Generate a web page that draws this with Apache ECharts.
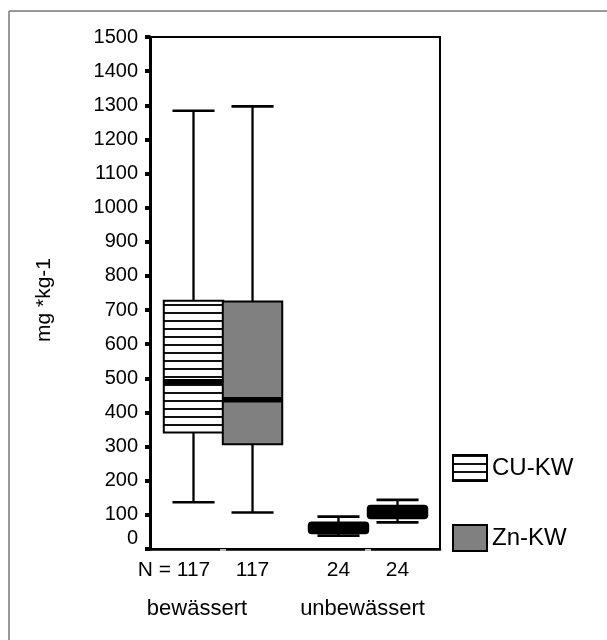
<!DOCTYPE html>
<html><head><meta charset="utf-8">
<script src="https://cdn.jsdelivr.net/npm/echarts@6/dist/echarts.min.js"></script>
<style>html,body{margin:0;padding:0;background:#fff}#c{width:607px;height:640px}</style>
</head><body><div id="c"></div>
<script>
// ---- data ----
const groups = ['bewässert', 'unbewässert'];
const seriesNames = ['CU-KW', 'Zn-KW'];
const nPrefix = 'N = ';
const cuN = [117, 24];
const znN = [117, 24];
const cuLow = [137, 39];
const cuQ1 = [341, 46];
const cuMedian = [490, 60];
const cuQ3 = [727, 78];
const cuHigh = [1284, 95];
const znLow = [107, 78];
const znQ1 = [307, 90];
const znMedian = [437, 108];
const znQ3 = [725, 127];
const znHigh = [1297, 144];
const yMin = 0, yMax = 1500, yStep = 100;
const yTitle = 'mg *kg-1';

// ---- style ----
const FONT = '"Liberation Sans", Arial, Helvetica, sans-serif';
const NFS = 21;
const pc = document.createElement('canvas');
pc.width = 8; pc.height = 8;
const pctx = pc.getContext('2d');
pctx.fillStyle = '#fff'; pctx.fillRect(0, 0, 8, 8);
pctx.fillStyle = '#111'; pctx.fillRect(0, 0, 8, 2);
const hatch = { image: pc, repeat: 'repeat' };
const GRAY = '#808080';

const mctx = document.createElement('canvas').getContext('2d');
mctx.font = NFS + 'px ' + FONT;

function rows(low, q1, med, q3, high, n) {
  return groups.map((g, i) => [i, low[i], q1[i], med[i], q3[i], high[i], n[i]]);
}

function makeRender(offsetFrac, fill, withPrefix) {
  return function (params, api) {
    const cat = api.value(0);
    const band = api.size([1, 0])[0];
    const base = api.coord([cat, 0]);
    const cx = base[0] + offsetFrac * band;
    const bw = 0.41 * band, cw = 0.29 * band;
    const yLow = api.coord([cat, api.value(1)])[1];
    const yQ1 = api.coord([cat, api.value(2)])[1];
    const yMed = api.coord([cat, api.value(3)])[1];
    const yQ3 = api.coord([cat, api.value(4)])[1];
    const yHigh = api.coord([cat, api.value(5)])[1];
    const small = (yQ1 - yQ3) < 16;
    const nTxt = String(api.value(6));
    const children = [
      { type: 'line', shape: { x1: cx, y1: yHigh, x2: cx, y2: yQ3 }, style: { stroke: '#000', lineWidth: 2.3 } },
      { type: 'line', shape: { x1: cx, y1: yQ1, x2: cx, y2: yLow }, style: { stroke: '#000', lineWidth: 2.3 } },
      { type: 'line', shape: { x1: cx - cw / 2, y1: yHigh, x2: cx + cw / 2, y2: yHigh }, style: { stroke: '#000', lineWidth: 2.7 } },
      { type: 'line', shape: { x1: cx - cw / 2, y1: yLow, x2: cx + cw / 2, y2: yLow }, style: { stroke: '#000', lineWidth: 2.7 } },
      { type: 'rect', shape: { x: cx - bw / 2, y: yQ3, width: bw, height: yQ1 - yQ3, r: small ? 3 : 0 },
        style: { fill: small ? '#000' : fill, stroke: '#000', lineWidth: 2 } },
      { type: 'line', shape: { x1: cx - bw / 2, y1: yMed, x2: cx + bw / 2, y2: yMed }, style: { stroke: '#000', lineWidth: 5.5 } }
    ];
    const ty = base[1] + 21;
    if (withPrefix && params.dataIndex === 0) {
      const hw = mctx.measureText(nTxt).width / 2;
      children.push({ type: 'text', x: cx + hw, y: ty,
        style: { text: nPrefix + nTxt, textAlign: 'right', textVerticalAlign: 'middle', fontSize: NFS, fontFamily: FONT, fill: '#000' } });
    } else {
      children.push({ type: 'text', x: cx, y: ty,
        style: { text: nTxt, textAlign: 'center', textVerticalAlign: 'middle', fontSize: NFS, fontFamily: FONT, fill: '#000' } });
    }
    return { type: 'group', children };
  };
}

const chart = echarts.init(document.getElementById('c'), null, { renderer: 'canvas' });
chart.setOption({
  backgroundColor: '#fff',
  animation: false,
  grid: { left: 150, right: 167, top: 37, bottom: 91, show: true, borderColor: '#000', borderWidth: 2, backgroundColor: 'transparent' },
  xAxis: {
    type: 'category', data: groups,
    axisLine: { show: true, lineStyle: { color: '#000', width: 2.5 } },
    axisTick: { show: true, alignWithLabel: true, length: 2, lineStyle: { color: '#bbb', width: 6 } },
    axisLabel: {
      interval: 0, hideOverlap: false,
      margin: 49, color: '#000', fontSize: 22, fontFamily: FONT,
      formatter: (v, i) => (i === 0 ? '{a|' + v + '}' : '{b|' + v + '}'),
      rich: {
        a: { fontSize: 22, fontFamily: FONT, color: '#000', padding: [0, 51, 0, 0] },
        b: { fontSize: 22, fontFamily: FONT, color: '#000', padding: [0, 10, 0, 0] }
      }
    },
    splitLine: { show: false }
  },
  yAxis: {
    type: 'value', min: yMin, max: yMax, interval: yStep,
    name: yTitle, nameLocation: 'middle', nameGap: 95, nameRotate: 90,
    nameTextStyle: { fontSize: 21, fontFamily: FONT, color: '#000', padding: [0, 14, 0, 0] },
    axisLine: { show: true, lineStyle: { color: '#000', width: 3 } },
    axisTick: { show: true, length: 5, lineStyle: { color: '#000', width: 4 } },
    axisLabel: {
      fontSize: 20, fontFamily: FONT, color: '#000', margin: 12,
      formatter: v => (v === 0 ? '{z|0}' : String(v)),
      rich: { z: { fontSize: 20, fontFamily: FONT, color: '#000', padding: [0, 0, 22, 0] } }
    },
    splitLine: { show: false }
  },
  legend: {
    orient: 'vertical', left: 447, top: 449, itemWidth: 34, itemHeight: 26, itemGap: 42,
    selectedMode: false,
    textStyle: { fontSize: 24, fontFamily: FONT, color: '#000' },
    data: [
      { name: seriesNames[0], icon: 'rect', itemStyle: { color: hatch, borderColor: '#000', borderWidth: 2 } },
      { name: seriesNames[1], icon: 'rect', itemStyle: { color: GRAY, borderColor: '#000', borderWidth: 2 } }
    ]
  },
  graphic: [
    { type: 'line', shape: { x1: 9, y1: 11, x2: 607, y2: 11 }, style: { stroke: '#777', lineWidth: 1.5 } },
    { type: 'line', shape: { x1: 9, y1: 11, x2: 9, y2: 640 }, style: { stroke: '#777', lineWidth: 1.5 } }
  ],
  series: [
    { name: seriesNames[0], type: 'custom', clip: false, itemStyle: { color: hatch },
      encode: { x: 0, y: [1, 2, 3, 4, 5] },
      renderItem: makeRender(-0.2, hatch, true),
      data: rows(cuLow, cuQ1, cuMedian, cuQ3, cuHigh, cuN) },
    { name: seriesNames[1], type: 'custom', clip: false, itemStyle: { color: GRAY },
      encode: { x: 0, y: [1, 2, 3, 4, 5] },
      renderItem: makeRender(0.207, GRAY, false),
      data: rows(znLow, znQ1, znMedian, znQ3, znHigh, znN) }
  ]
});
</script>
</body></html>
